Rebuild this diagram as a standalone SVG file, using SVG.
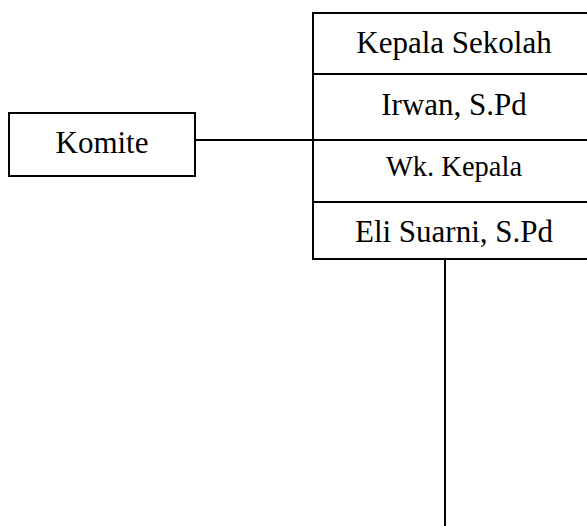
<svg xmlns="http://www.w3.org/2000/svg" width="587" height="526" viewBox="0 0 587 526">
<style>
.box{fill:#fff;stroke:#000;stroke-width:2}
.ln{fill:none;stroke:#000;stroke-width:2}
text{font-family:"Liberation Serif","Times New Roman",serif;fill:#000;text-anchor:middle}
.t{font-size:31px}
.s{font-size:28.5px}
</style>
<rect width="587" height="526" fill="#fff"/>
<g id="connectors">
<line class="ln" x1="195" y1="140" x2="313" y2="140"/>
<line class="ln" x1="445" y1="259" x2="445" y2="526"/>
</g>
<g id="komite">
<rect class="box" x="9" y="113" width="186" height="63"/>
<text class="t" x="102" y="153">Komite</text>
</g>
<g id="kepala-sekolah">
<rect class="box" x="313" y="13" width="290" height="61"/>
<text class="t" x="454" y="53">Kepala Sekolah</text>
</g>
<g id="irwan">
<rect class="box" x="313" y="74" width="290" height="66"/>
<text class="t" x="454" y="115">Irwan, S.Pd</text>
</g>
<g id="wk-kepala">
<rect class="box" x="313" y="140" width="290" height="62"/>
<text class="s" x="454" y="176">Wk. Kepala</text>
</g>
<g id="eli">
<rect class="box" x="313" y="202" width="290" height="57"/>
<text class="t" x="454" y="242">Eli Suarni, S.Pd</text>
</g>
</svg>
